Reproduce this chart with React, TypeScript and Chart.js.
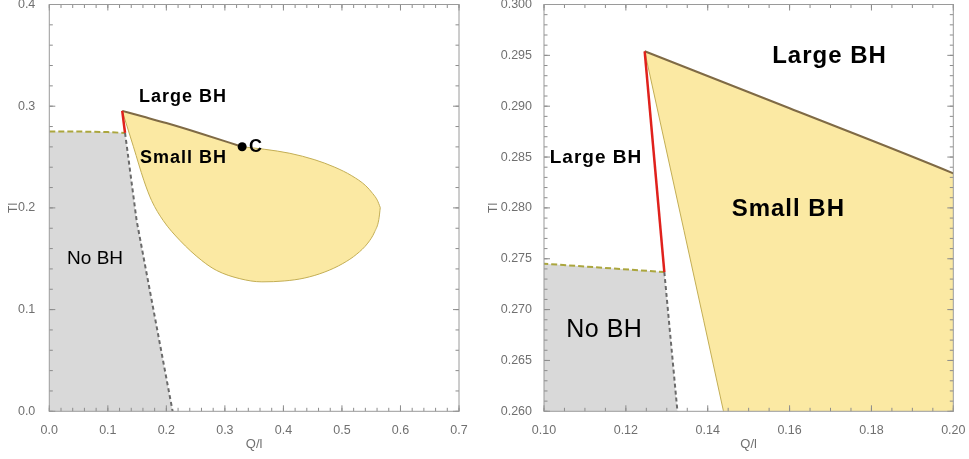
import React, { useEffect, useRef } from "react";
import { Chart, registerables } from "chart.js";

Chart.register(...registerables);

const FONT = '"Liberation Sans", Arial, Helvetica, sans-serif';

// ---------------- data (x = Q/l, y = Tl) ----------------
// upper edge of the "No BH" region (yellow-green dashed)
const noBhTopX = [0, 0.06, 0.1, 0.1294];
const noBhTopY = [0.2752, 0.275, 0.27452, 0.27369];
// slanted edge of the "No BH" region (gray dashed)
const noBhEdgeX = [0.1294, 0.1326, 0.1492, 0.2107];
const noBhEdgeY = [0.27369, 0.26, 0.1876, 0];
// red segment
const redX = [0.1246, 0.1294];
const redY = [0.2954, 0.27369];
// coexistence line (brown) ending at the critical point C
const coexX = [0.1246, 0.16, 0.2, 0.26, 0.3295];
const coexY = [0.2954, 0.2898, 0.2834, 0.2729, 0.2601];
// upper boundary of the small-BH region beyond C
const upperX = [0.3295, 0.3683, 0.411, 0.4537, 0.4878, 0.5168, 0.5407, 0.5527, 0.5604, 0.5655];
const upperY = [0.2601, 0.2576, 0.2537, 0.2473, 0.24, 0.2316, 0.2218, 0.214, 0.2076, 0.2003];
// lower boundary of the small-BH region
const lowerX = [0.1246, 0.1438, 0.1617, 0.1748, 0.1946, 0.2232, 0.2602, 0.2858, 0.3256, 0.3632, 0.4024, 0.4366, 0.4707, 0.5015, 0.5254, 0.5442, 0.5561, 0.563, 0.5655];
const lowerY = [0.2954, 0.2601, 0.2268, 0.2072, 0.1876, 0.168, 0.1484, 0.1385, 0.1304, 0.1273, 0.1282, 0.1311, 0.137, 0.1453, 0.1546, 0.1654, 0.1767, 0.1885, 0.2003];
// critical point
const criticalX = [0.3295];
const criticalY = [0.2601];

// ---------------- ticks ----------------
const leftXTicks = [0, 0.1, 0.2, 0.3, 0.4, 0.5, 0.6, 0.7];
const leftXLabels = ["0.0", "0.1", "0.2", "0.3", "0.4", "0.5", "0.6", "0.7"];
const leftYTicks = [0, 0.1, 0.2, 0.3, 0.4];
const leftYLabels = ["0.0", "0.1", "0.2", "0.3", "0.4"];
const rightXTicks = [0.1, 0.12, 0.14, 0.16, 0.18, 0.2];
const rightXLabels = ["0.10", "0.12", "0.14", "0.16", "0.18", "0.20"];
const rightYTicks = [0.26, 0.265, 0.27, 0.275, 0.28, 0.285, 0.29, 0.295, 0.3];
const rightYLabels = ["0.260", "0.265", "0.270", "0.275", "0.280", "0.285", "0.290", "0.295", "0.300"];

const zip = (xs: number[], ys: number[]) => xs.map((x, i) => ({ x, y: ys[i] }));

function steps(min: number, max: number, step: number) {
  const out: number[] = [];
  const n = Math.round((max - min) / step);
  for (let i = 0; i <= n; i++) out.push(min + i * step);
  return out;
}

function buildDatasets() {
  const upperFull = zip([...coexX, ...upperX.slice(1)], [...coexY, ...upperY.slice(1)]);
  const grayFull = zip([...noBhTopX, ...noBhEdgeX.slice(1)], [...noBhTopY, ...noBhEdgeY.slice(1)]);
  const smooth = { cubicInterpolationMode: "monotone" };
  return [
    { label: "C", data: zip(criticalX, criticalY), showLine: false, pointRadius: 4.5, pointBackgroundColor: "#000", pointBorderColor: "#000", pointBorderWidth: 0 },
    { label: "red", data: zip(redX, redY), borderColor: "#e0211c", borderWidth: 2.5 },
    { label: "coex", data: zip(coexX, coexY), borderColor: "#7f6a45", borderWidth: 2, ...smooth },
    { label: "edge", data: zip(noBhEdgeX, noBhEdgeY), borderColor: "#6a6a6a", borderWidth: 2, borderDash: [4, 3] },
    { label: "top", data: zip(noBhTopX, noBhTopY), borderColor: "#aba63e", borderWidth: 2, borderDash: [6, 3] },
    { label: "upper", data: zip(upperX, upperY), borderColor: "#c3ae55", borderWidth: 1, ...smooth },
    { label: "lower", data: zip(lowerX, lowerY), borderColor: "#c3ae55", borderWidth: 1, ...smooth },
    { label: "smallFill", data: upperFull, borderColor: "transparent", borderWidth: 0, fill: 6, backgroundColor: "#fbe9a3", ...smooth },
    { label: "grayFill", data: grayFull, borderColor: "transparent", borderWidth: 0, fill: "start", backgroundColor: "#d9d9d9" },
  ];
}

type Ann = { text: string; x: number; y: number; size: number; bold: boolean; align?: CanvasTextAlign; spacing?: number };

type PanelCfg = {
  xMin: number; xMax: number; yMin: number; yMax: number;
  xTicks: number[]; xLabels: string[]; yTicks: number[]; yLabels: string[];
  xMinor: number; yMinor: number;
  yAxisWidth: number; rightPad: number; yTitlePad: number; yLabelPad: number;
  anns: Ann[];
};

const leftCfg: PanelCfg = {
  xMin: 0, xMax: 0.7, yMin: 0, yMax: 0.4,
  xTicks: leftXTicks, xLabels: leftXLabels, yTicks: leftYTicks, yLabels: leftYLabels,
  xMinor: 0.02, yMinor: 0.02,
  yAxisWidth: 49.3, rightPad: 25, yTitlePad: 6, yLabelPad: 6,
  anns: [
    { text: "Large BH", x: 0.2284, y: 0.309, size: 18, bold: true, spacing: 1 },
    { text: "Small BH", x: 0.2291, y: 0.2488, size: 18, bold: true, spacing: 1 },
    { text: "C", x: 0.341, y: 0.2601, size: 18, bold: true, align: "left" },
    { text: "No BH", x: 0.0782, y: 0.15, size: 19, bold: false },
  ],
};

const rightCfg: PanelCfg = {
  xMin: 0.1, xMax: 0.2, yMin: 0.26, yMax: 0.3,
  xTicks: rightXTicks, xLabels: rightXLabels, yTicks: rightYTicks, yLabels: rightYLabels,
  xMinor: 0.005, yMinor: 0.001,
  yAxisWidth: 60, rightPad: 15.7, yTitlePad: 2.7, yLabelPad: 4,
  anns: [
    { text: "Large BH", x: 0.16975, y: 0.29493, size: 24, bold: true, spacing: 1 },
    { text: "Large BH", x: 0.1127, y: 0.28493, size: 19, bold: true, spacing: 1 },
    { text: "Small BH", x: 0.15969, y: 0.27988, size: 24, bold: true, spacing: 1 },
    { text: "No BH", x: 0.11473, y: 0.26797, size: 25, bold: false, spacing: 0.5 },
  ],
};

function makeFramePlugin(cfg: PanelCfg) {
  return {
    id: "frameTicksText",
    afterDatasetsDraw(chart: any) {
      const { ctx, chartArea } = chart;
      const { left, right, top, bottom } = chartArea;
      const xs = chart.scales.x;
      const ys = chart.scales.y;
      ctx.save();
      ctx.strokeStyle = "#8c8c8c";
      ctx.lineWidth = 1;
      const seg = (x1: number, y1: number, x2: number, y2: number) => {
        ctx.beginPath();
        ctx.moveTo(x1, y1);
        ctx.lineTo(x2, y2);
        ctx.stroke();
      };
      const minorX = steps(cfg.xMin, cfg.xMax, cfg.xMinor);
      const minorY = steps(cfg.yMin, cfg.yMax, cfg.yMinor);
      for (const v of minorX) {
        const p = xs.getPixelForValue(v);
        seg(p, bottom, p, bottom - 3.5);
        seg(p, top, p, top + 3.5);
      }
      for (const v of cfg.xTicks) {
        const p = xs.getPixelForValue(v);
        seg(p, bottom, p, bottom - 6);
        seg(p, top, p, top + 6);
      }
      for (const v of minorY) {
        const p = ys.getPixelForValue(v);
        seg(left, p, left + 3.5, p);
        seg(right, p, right - 3.5, p);
      }
      for (const v of cfg.yTicks) {
        const p = ys.getPixelForValue(v);
        seg(left, p, left + 6, p);
        seg(right, p, right - 6, p);
      }
      ctx.strokeStyle = "#9a9a9a";
      ctx.strokeRect(left, top, right - left, bottom - top);

      for (const a of cfg.anns) {
        ctx.font = `${a.bold ? "bold " : ""}${a.size}px ${FONT}`;
        (ctx as any).letterSpacing = `${a.spacing || 0}px`;
        ctx.fillStyle = "#000";
        ctx.textAlign = a.align || "center";
        ctx.textBaseline = "middle";
        ctx.fillText(a.text, xs.getPixelForValue(a.x), ys.getPixelForValue(a.y));
      }
      (ctx as any).letterSpacing = "0px";
      ctx.restore();
    },
  };
}

function Panel({ cfg, left, width }: { cfg: PanelCfg; left: number; width: number }) {
  const ref = useRef<HTMLCanvasElement>(null);
  useEffect(() => {
    const canvas = ref.current!;
    const chart = new Chart(canvas, {
      type: "line",
      data: { datasets: buildDatasets() as any },
      options: {
        animation: false,
        responsive: false,
        devicePixelRatio: 1,
        events: [],
        layout: { padding: { left: 0, top: 3.3, right: cfg.rightPad, bottom: 0 } },
        elements: {
          point: { radius: 0, hoverRadius: 0 },
          line: { tension: 0, fill: false },
        },
        plugins: { legend: { display: false }, tooltip: { enabled: false }, title: { display: false } },
        scales: {
          x: {
            type: "linear",
            min: cfg.xMin,
            max: cfg.xMax,
            grid: { display: false },
            border: { display: false },
            afterBuildTicks: (s: any) => {
              s.ticks = cfg.xTicks.map((v) => ({ value: v }));
            },
            afterFit: (s: any) => {
              s.height = 47.7;
              s.paddingLeft = 0;
              s.paddingRight = 0;
            },
            ticks: {
              autoSkip: false,
              maxRotation: 0,
              padding: 3.5,
              color: "#707070",
              font: { family: FONT, size: 12.5 },
              callback: (_v: any, i: number) => cfg.xLabels[i],
            },
            title: {
              display: true,
              text: "Q/l",
              color: "#707070",
              font: { family: FONT, size: 13 },
              padding: { top: 0, bottom: 7.2 },
            },
          },
          y: {
            type: "linear",
            position: "left",
            min: cfg.yMin,
            max: cfg.yMax,
            grid: { display: false },
            border: { display: false },
            afterBuildTicks: (s: any) => {
              s.ticks = cfg.yTicks.map((v) => ({ value: v }));
            },
            afterFit: (s: any) => {
              s.width = cfg.yAxisWidth;
              s.paddingTop = 0;
              s.paddingBottom = 0;
            },
            ticks: {
              autoSkip: false,
              padding: cfg.yLabelPad,
              color: "#707070",
              font: { family: FONT, size: 12.5 },
              callback: (_v: any, i: number) => cfg.yLabels[i],
            },
            title: {
              display: true,
              text: "Tl",
              color: "#707070",
              font: { family: FONT, size: 12 },
              padding: { top: cfg.yTitlePad, bottom: 0 },
            },
          },
        },
      } as any,
      plugins: [makeFramePlugin(cfg)],
    });
    return () => chart.destroy();
  }, []);
  return (
    <canvas
      ref={ref}
      width={width}
      height={459}
      style={{ position: "absolute", left, top: 0, width, height: 459, display: "block" }}
    />
  );
}

export default function App() {
  return (
    <div style={{ position: "absolute", left: 0, top: 0, width: 969, height: 459, background: "#fff" }}>
      <Panel cfg={leftCfg} left={0} width={484} />
      <Panel cfg={rightCfg} left={484} width={485} />
    </div>
  );
}
